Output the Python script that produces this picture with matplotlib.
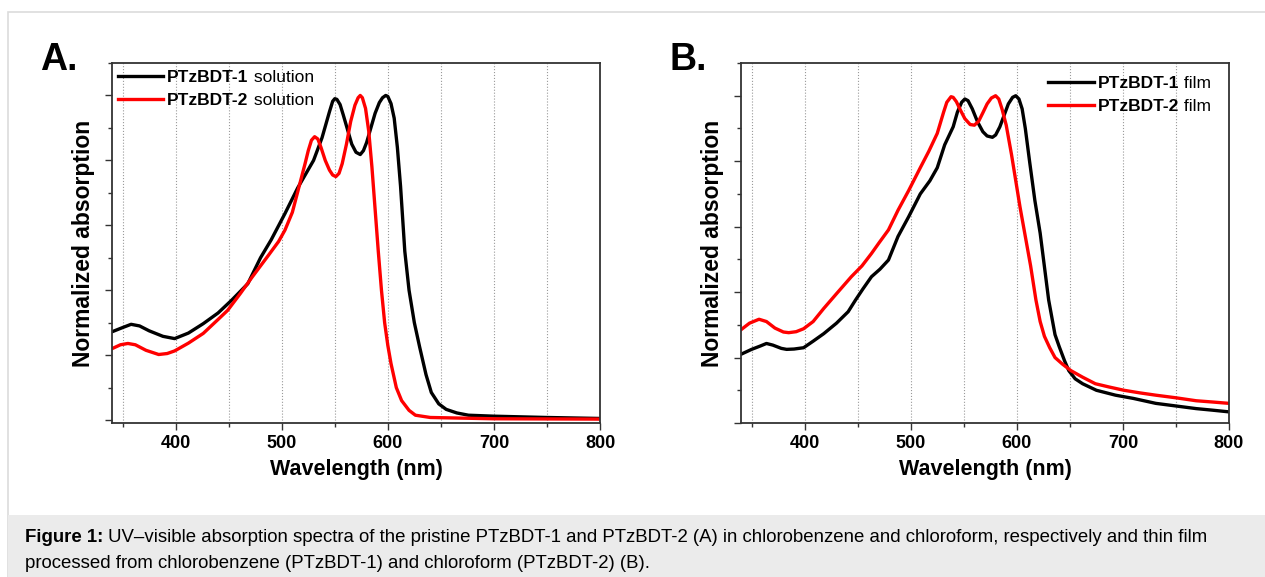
import matplotlib.pyplot as plt
from matplotlib.patches import Rectangle
from matplotlib.ticker import MultipleLocator

plt.rcParams['font.family'] = ['Liberation Sans', 'DejaVu Sans']

# panel A: solution spectra
wl_a1 = [340, 350, 358, 366, 375, 388, 399, 412, 426, 440, 453, 468, 480, 490, 503, 515,
         530, 538, 545, 548, 550, 552, 555, 558, 562, 566, 570, 574, 577, 580, 584, 588,
         592, 595, 598, 600, 603, 606, 609, 612, 616, 620, 625, 630, 636, 641, 648, 655,
         665, 676, 700, 750, 800]
abs_a1 = [0.272, 0.285, 0.295, 0.290, 0.275, 0.258, 0.251, 0.268, 0.297, 0.330, 0.370, 0.420,
          0.500, 0.555, 0.636, 0.715, 0.800, 0.870, 0.950, 0.982, 0.990, 0.988, 0.972, 0.940,
          0.895, 0.850, 0.825, 0.818, 0.830, 0.855, 0.900, 0.945, 0.978, 0.993, 1.000, 0.997,
          0.975, 0.930, 0.840, 0.720, 0.520, 0.400, 0.300, 0.225, 0.140, 0.085, 0.050, 0.033,
          0.022, 0.015, 0.012, 0.008, 0.005]
wl_a2 = [340, 348, 355, 362, 372, 384, 392, 399, 412, 426, 440, 449, 461, 472, 480, 488,
         497, 503, 510, 518, 522, 525, 528, 531, 534, 537, 541, 545, 548, 551, 554, 557,
         561, 565, 569, 572, 574, 576, 579, 582, 585, 588, 591, 594, 597, 600, 603, 608,
         613, 620, 626, 640, 700, 800]
abs_a2 = [0.220, 0.232, 0.236, 0.232, 0.215, 0.202, 0.205, 0.213, 0.237, 0.267, 0.310, 0.338,
          0.390, 0.440, 0.475, 0.510, 0.550, 0.585, 0.640, 0.740, 0.790, 0.830, 0.862, 0.873,
          0.866, 0.840, 0.800, 0.770, 0.755, 0.750, 0.760, 0.790, 0.850, 0.920, 0.970, 0.993,
          1.000, 0.993, 0.960, 0.890, 0.780, 0.650, 0.520, 0.400, 0.300, 0.230, 0.174, 0.100,
          0.060, 0.030, 0.015, 0.008, 0.004, 0.003]

# panel B: film spectra
wl_b1 = [340, 350, 358, 364, 370, 378, 383, 390, 399, 408, 418, 430, 441, 448, 455, 463,
         471, 479, 488, 498, 509, 518, 525, 532, 540, 544, 548, 551, 554, 558, 563, 568,
         572, 577, 580, 584, 588, 592, 596, 599, 602, 605, 608, 612, 617, 622, 630, 636,
         640, 645, 649, 655, 662, 675, 693, 710, 731, 750, 769, 785, 800]
abs_b1 = [0.210, 0.225, 0.235, 0.243, 0.238, 0.228, 0.225, 0.226, 0.230, 0.250, 0.273, 0.305,
          0.340, 0.376, 0.410, 0.447, 0.470, 0.498, 0.570, 0.630, 0.700, 0.740, 0.780, 0.850,
          0.905, 0.950, 0.980, 0.990, 0.985, 0.960, 0.920, 0.890, 0.877, 0.873, 0.880, 0.905,
          0.940, 0.975, 0.995, 1.000, 0.990, 0.960, 0.900, 0.800, 0.680, 0.580, 0.376, 0.270,
          0.233, 0.190, 0.160, 0.135, 0.120, 0.100, 0.085, 0.075, 0.060, 0.052, 0.044, 0.039,
          0.034]
wl_b2 = [340, 348, 357, 364, 372, 380, 385, 392, 399, 408, 418, 430, 444, 454, 463, 470,
         479, 488, 498, 509, 517, 525, 531, 534, 538, 540, 543, 547, 551, 556, 560, 564,
         568, 572, 576, 580, 583, 586, 590, 595, 603, 613, 618, 622, 626, 631, 636, 643,
         651, 662, 674, 687, 701, 716, 731, 750, 769, 785, 800]
abs_b2 = [0.285, 0.305, 0.317, 0.310, 0.290, 0.278, 0.276, 0.279, 0.288, 0.310, 0.350, 0.395,
          0.447, 0.480, 0.518, 0.550, 0.590, 0.650, 0.710, 0.780, 0.830, 0.885, 0.950, 0.980,
          0.997, 0.995, 0.982, 0.955, 0.930, 0.912, 0.910, 0.922, 0.948, 0.975, 0.993, 1.000,
          0.990, 0.960, 0.910, 0.820, 0.660, 0.480, 0.376, 0.310, 0.265, 0.230, 0.200, 0.180,
          0.160, 0.140, 0.120, 0.110, 0.100, 0.092, 0.085, 0.077, 0.068, 0.064, 0.060]

names = ['PTzBDT-1', 'PTzBDT-2']
caption_1 = ('UV\u2013visible absorption spectra of the pristine PTzBDT-1 and PTzBDT-2 (A) in '
             'chlorobenzene and chloroform, respectively and thin film')
caption_2 = 'processed from chlorobenzene (PTzBDT-1) and chloroform (PTzBDT-2) (B).'

W, H = 1265, 577
fig = plt.figure(figsize=(W / 100, H / 100), dpi=100)

# page frame and caption box
fig.patches.append(Rectangle((8 / W, 0), 1.2, (H - 12) / H, transform=fig.transFigure,
                             fill=False, ec='#dcdcdc', lw=1.2))
fig.patches.append(Rectangle((8 / W, 0), 1.2, (H - 515) / H, transform=fig.transFigure,
                             fc='#ebebeb', ec='none'))

legends = []

def panel(left, ylo, data, suffix, leg_anchor, letter):
    ax = fig.add_axes([left / W, (H - 423) / H, 488 / W, 360 / H])
    for (x, y), c, n in zip(data, ['black', 'red'], names):
        ax.plot(x, y, color=c, lw=2.4, label=n, solid_joinstyle='round')
    ax.set_xlim(340, 800)
    ax.set_ylim(ylo, 1.1)
    ax.xaxis.set_major_locator(MultipleLocator(100))
    ax.xaxis.set_minor_locator(MultipleLocator(50))
    ax.yaxis.set_major_locator(MultipleLocator(0.2))
    ax.yaxis.set_minor_locator(MultipleLocator(0.1))
    ax.grid(axis='x', which='both', ls=':', color='#9a9a9a', lw=0.8)
    ax.tick_params(which='both', direction='out', width=1, color='#333333')
    ax.tick_params(which='major', length=5)
    ax.tick_params(which='minor', length=3)
    ax.tick_params(axis='x', labelsize=13, pad=4)
    ax.tick_params(axis='y', labelleft=False)
    for t in ax.get_xticklabels():
        t.set_fontweight('bold')
    for s in ax.spines.values():
        s.set_color('#333333')
        s.set_linewidth(1.3)
    ax.set_xlabel('Wavelength (nm)', fontsize=15.5, fontweight='bold', labelpad=5)
    ax.set_ylabel('Normalized absorption', fontsize=16.5, fontweight='bold', labelpad=6)
    leg = ax.legend(loc='upper left', bbox_to_anchor=leg_anchor, frameon=False,
                    prop={'weight': 'bold', 'size': 12.5}, handlelength=2.6,
                    handletextpad=0.25, labelspacing=0.45, borderpad=0, borderaxespad=0)
    legends.append((leg, suffix))
    fig.text((left - 72) / W, (H - 60) / H, letter, fontsize=27, fontweight='bold',
             ha='left', va='center')
    return ax

panel(112, -0.009, [(wl_a1, abs_a1), (wl_a2, abs_a2)], 'solution', (0.012, 0.98), 'A.')
panel(741, 0.0, [(wl_b1, abs_b1), (wl_b2, abs_b2)], 'film', (0.63, 0.965), 'B.')

cap1 = fig.text(25 / W, (H - 538) / H, 'Figure 1:', fontsize=13.4, fontweight='bold',
                ha='left', va='center')
fig.text(25 / W, (H - 563) / H, caption_2, fontsize=13.4, ha='left', va='center')

# append the non-bold parts right after the bold words
fig.canvas.draw()
for leg, suffix in legends:
    for t in leg.get_texts():
        bb = t.get_window_extent()
        fig.text(bb.x1 / W, bb.y0 / H, ' ' + suffix, fontsize=12.5, ha='left', va='bottom')
bb = cap1.get_window_extent()
fig.text(bb.x1 / W, bb.y0 / H, ' ' + caption_1, fontsize=13.4, ha='left', va='bottom')

fig.savefig('out.png', dpi=100)
